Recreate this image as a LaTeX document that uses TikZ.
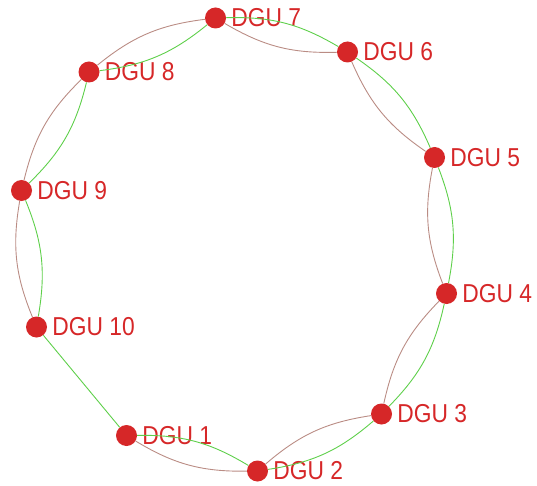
\documentclass[tikz,border=0pt]{standalone}
\usepackage{fontspec}
\setmainfont[FakeStretch=0.88]{Liberation Sans}
\definecolor{dotred}{HTML}{D62728}
\definecolor{linkgreen}{HTML}{5ECF4A}
\definecolor{linkbrown}{HTML}{BA8C84}
\begin{document}
\begin{tikzpicture}[x=1bp,y=-1bp,
  dgu/.style={circle,fill=dotred,draw=none,minimum size=21bp,inner sep=0pt,
    label={[text=dotred,font=\fontsize{26}{26}\selectfont,label distance=5bp,inner sep=0pt]right:#1}},
  gline/.style={draw=linkgreen,line width=0.9pt},
  bline/.style={draw=linkbrown,line width=0.9pt}]
\useasboundingbox (0,0) rectangle (537,486);
\node[dgu={DGU 1}] (n1) at (126.5,435.5) {};
\node[dgu={DGU 2}] (n2) at (257.5,471) {};
\node[dgu={DGU 3}] (n3) at (381.5,414) {};
\node[dgu={DGU 4}] (n4) at (446.5,293.5) {};
\node[dgu={DGU 5}] (n5) at (434.5,157.5) {};
\node[dgu={DGU 6}] (n6) at (347.5,52) {};
\node[dgu={DGU 7}] (n7) at (215.5,18) {};
\node[dgu={DGU 8}] (n8) at (89,72) {};
\node[dgu={DGU 9}] (n9) at (21.5,190.5) {};
\node[dgu={DGU 10}] (n10) at (36.5,327) {};
% green inward
\foreach \a/\b in {n1/n2,n7/n8,n8/n9,n9/n10}{
  \draw[bline] (\a) to[bend right=16] (\b);
  \draw[gline] (\a) to[bend left=16] (\b);
}
% brown inward
\foreach \a/\b in {n2/n3,n3/n4,n4/n5,n5/n6,n6/n7}{
  \draw[bline] (\a) to[bend left=16] (\b);
  \draw[gline] (\a) to[bend right=16] (\b);
}
\draw[gline] (n10) -- (n1);
\end{tikzpicture}
\end{document}
